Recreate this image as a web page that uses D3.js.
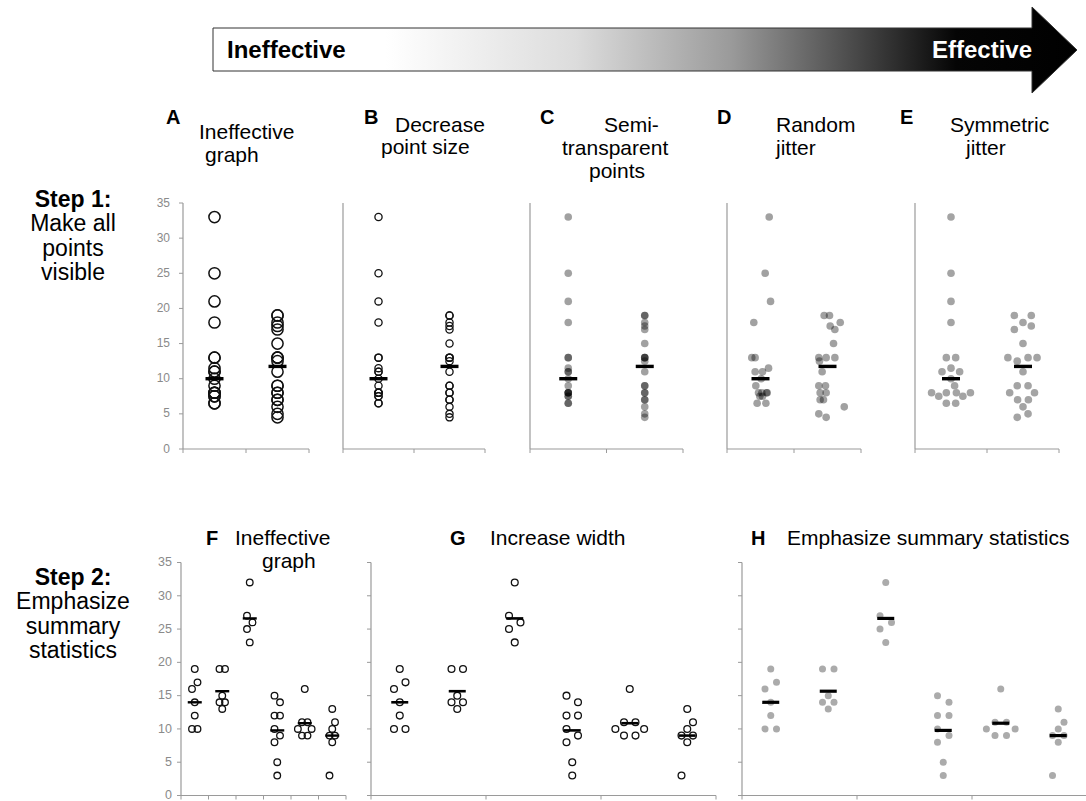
<!DOCTYPE html>
<html>
<head>
<meta charset="utf-8">
<script src="https://cdn.jsdelivr.net/npm/d3@7"></script>
<style>
  html, body { margin: 0; padding: 0; background: #fff; }
  svg { display: block; font-family: "Liberation Sans", Arial, sans-serif; }
</style>
</head>
<body>
<svg id="chart" width="1086" height="801"></svg>
<script>
// ---- data ----
const topGroups = ["Group 1", "Group 2"];
const topGroup1 = [33, 25, 21, 18, 13, 13, 11.5, 11, 11, 10, 9, 8, 8, 8, 8, 7.5, 7.5, 6.5, 6.5];
const topGroup2 = [19, 19, 18, 17.5, 17, 15, 13, 13, 13, 12.5, 11, 9, 9, 8, 8, 7, 7, 6, 5, 4.5];
// horizontal offsets (fraction of a category width) for the jittered panels
const randomJitter1 = [0.13, 0.07, 0.15, -0.10, -0.13, -0.08, 0.12, -0.08, 0.03, 0.01, -0.07, -0.03, 0.02, 0.09, 0.10, -0.01, 0.03, -0.05, 0.08];
const randomJitter2 = [-0.05, 0.03, 0.19, 0.04, 0.11, 0.09, -0.13, -0.02, 0.11, -0.12, -0.08, -0.13, -0.03, -0.11, -0.02, -0.11, -0.06, 0.25, -0.13, -0.02];
const symJitter1 = [0, 0, 0, 0, -0.065, 0.065, 0, -0.125, 0.12, 0, 0.05, -0.27, -0.065, 0.075, 0.27, -0.17, 0.165, -0.065, 0.065];
const symJitter2 = [-0.12, 0.115, 0, 0.115, -0.12, 0, -0.21, 0.07, 0.195, -0.08, 0, -0.08, 0.07, -0.185, 0.16, -0.075, 0.075, 0, 0.07, -0.08];

const bottomGroups = ["1", "2", "3", "4", "5", "6"];
const bottomValues = [
  [19, 17, 16, 14, 12, 10, 10],
  [19, 19, 15, 14, 14, 13],
  [32, 27, 26, 25, 23],
  [15, 14, 12, 12, 10, 9, 8, 5, 3],
  [16, 11, 11, 10, 10, 9, 9],
  [13, 11, 10, 9, 9, 8, 3]
];
const bottomJitter = [
  [0, 0.1, -0.1, 0, 0, -0.1, 0.1],
  [-0.1, 0.1, 0, -0.1, 0.1, 0],
  [0, -0.1, 0.1, -0.1, 0],
  [-0.1, 0.1, -0.1, 0.1, -0.1, 0.1, -0.1, 0, 0],
  [0, -0.1, 0.1, -0.25, 0.25, -0.1, 0.1],
  [0, 0.1, 0, -0.1, 0.1, 0, -0.1]
];
const yTicks = [0, 5, 10, 15, 20, 25, 30, 35];

// ---- drawing ----
const svg = d3.select("#chart");
const axisColor = "#9a9a9a";

// gradient arrow
const defs = svg.append("defs");
const grad = defs.append("linearGradient")
  .attr("id", "effGrad").attr("gradientUnits", "userSpaceOnUse")
  .attr("x1", 213).attr("x2", 1077).attr("y1", 0).attr("y2", 0);
[[0, "#ffffff"], [0.2, "#ffffff"], [0.42, "#dcdcdc"], [0.6, "#9a9a9a"], [0.75, "#454545"], [0.86, "#050505"], [1, "#000000"]]
  .forEach(([o, c]) => grad.append("stop").attr("offset", o).attr("stop-color", c));
svg.append("path")
  .attr("d", "M213,28 L1032,28 L1032,7 L1077,50 L1032,93 L1032,71 L213,71 Z")
  .attr("fill", "url(#effGrad)").attr("stroke", "#333").attr("stroke-width", 1);
svg.append("text").attr("x", 227).attr("y", 58).attr("font-size", 24).attr("font-weight", "bold")
  .attr("fill", "#000").text("Ineffective");
svg.append("text").attr("x", 1032).attr("y", 58).attr("font-size", 24).attr("font-weight", "bold")
  .attr("text-anchor", "end").attr("fill", "#fff").text("Effective");

// row labels
function rowLabel(lines, y0) {
  lines.forEach((t, i) => {
    svg.append("text").attr("x", 73).attr("y", y0 + i * 24.3)
      .attr("text-anchor", "middle").attr("font-size", 23)
      .attr("font-weight", i === 0 ? "bold" : "normal").text(t);
  });
}
rowLabel(["Step 1:", "Make all", "points", "visible"], 207);
rowLabel(["Step 2:", "Emphasize", "summary", "statistics"], 585);

// panel headings
function heading(letter, lx, ly, lines) {
  svg.append("text").attr("x", lx).attr("y", ly).attr("font-size", 20)
    .attr("font-weight", "bold").text(letter);
  lines.forEach(([t, x, y]) => {
    svg.append("text").attr("x", x).attr("y", y).attr("font-size", 21).text(t);
  });
}
heading("A", 166, 124, [["Ineffective", 199, 139], ["graph", 205, 162]]);
heading("B", 364, 124, [["Decrease", 395, 132], ["point size", 381, 154]]);
heading("C", 540, 124, [["Semi-", 604, 132], ["transparent", 562, 155], ["points", 589, 178]]);
heading("D", 717, 124, [["Random", 776, 132], ["jitter", 776, 155]]);
heading("E", 900, 124, [["Symmetric", 950, 132], ["jitter", 966, 155]]);
heading("F", 206, 545, [["Ineffective", 235, 545], ["graph", 262, 568]]);
heading("G", 450, 545, [["Increase width", 490, 545]]);
heading("H", 751, 545, [["Emphasize summary statistics", 787, 545]]);

// scales
const yTop = d3.scaleLinear().domain([0, 35]).range([449, 203]);
const yBot = d3.scaleLinear().domain([0, 35]).range([795.5, 562.5]);

function drawAxes(g, x, y, opts) {
  const [x0, x1] = x.range();
  const [yb, yt] = y.range();
  // vertical axis
  g.append("line").attr("x1", x0).attr("x2", x0).attr("y1", yt).attr("y2", yb)
    .attr("stroke", axisColor).attr("stroke-width", 1.2);
  if (opts.yTicks) {
    g.selectAll(".ytick").data(yTicks).join("line")
      .attr("x1", x0 - 4).attr("x2", x0).attr("y1", d => y(d)).attr("y2", d => y(d))
      .attr("stroke", axisColor).attr("stroke-width", 1);
  }
  if (opts.yLabels) {
    g.selectAll(".ylab").data(yTicks).join("text")
      .attr("x", x0 - opts.labelGap).attr("y", d => y(d)).attr("dy", "0.3em")
      .attr("text-anchor", "end").attr("font-size", opts.labelSize).attr("fill", "#8a8a8a")
      .text(d => d);
  }
  // horizontal axis
  g.append("line").attr("x1", x0).attr("x2", x1).attr("y1", yb).attr("y2", yb)
    .attr("stroke", axisColor).attr("stroke-width", 1.2);
  const dom = x.domain();
  const edges = [];
  for (let i = 0; i <= dom.length; i += opts.tickEvery) {
    edges.push(i < dom.length ? x(dom[i]) : x1);
  }
  g.selectAll(".xtick").data(edges).join("line")
    .attr("x1", d => d).attr("x2", d => d).attr("y1", yb).attr("y2", yb + 4)
    .attr("stroke", axisColor).attr("stroke-width", 1);
}

function summaryBar(g, cx, yv, w, sw) {
  g.append("line").attr("x1", cx - w / 2).attr("x2", cx + w / 2)
    .attr("y1", yv).attr("y2", yv).attr("stroke", "#000").attr("stroke-width", sw);
}

// top row panels
const topPanels = [
  { x0: 183, x1: 309, style: "open", r: 5.6, sw: 1.5, labels: true },
  { x0: 343, x1: 485, style: "open", r: 3.6, sw: 1.3 },
  { x0: 530, x1: 683, style: "alpha", r: 3.8 },
  { x0: 727, x1: 861, style: "alpha", r: 3.8, jitter: [randomJitter1, randomJitter2] },
  { x0: 915, x1: 1059, style: "grey", r: 3.8, jitter: [symJitter1, symJitter2] }
];
const topSeries = [topGroup1, topGroup2];

topPanels.forEach(p => {
  const g = svg.append("g");
  const x = d3.scaleBand().domain(topGroups).range([p.x0, p.x1]);
  drawAxes(g, x, yTop, { yTicks: !!p.labels, yLabels: !!p.labels, tickEvery: 1, labelGap: 13, labelSize: 12 });
  topGroups.forEach((grp, gi) => {
    const vals = topSeries[gi];
    const cx = x(grp) + x.bandwidth() / 2;
    const pts = vals.map((v, i) => ({ v, j: p.jitter ? p.jitter[gi][i] : 0 }));
    const sel = g.selectAll(null).data(pts).join("circle")
      .attr("cx", d => cx + d.j * x.bandwidth())
      .attr("cy", d => yTop(d.v))
      .attr("r", p.r);
    if (p.style === "open") {
      sel.attr("fill", "none").attr("stroke", "#111").attr("stroke-width", p.sw);
    } else if (p.style === "alpha") {
      sel.attr("fill", "#000").attr("fill-opacity", 0.37);
    } else {
      sel.attr("fill", "#a4a4a4");
    }
    summaryBar(g, cx, yTop(d3.median(vals)), 18, 3.4);
  });
});

// bottom row panels
const botPanels = [
  { x0: 181, x1: 346, style: "open", r: 3.3, sw: 1.3, labels: true, tickEvery: 1, barW: 14, barSW: 2.4 },
  { x0: 371, x1: 716, style: "open", r: 3.4, sw: 1.3, tickEvery: 2, barW: 17, barSW: 2.6 },
  { x0: 742, x1: 1087, style: "grey", r: 3.5, tickEvery: 2, barW: 17, barSW: 3.2 }
];
botPanels.forEach(p => {
  const g = svg.append("g");
  const x = d3.scaleBand().domain(bottomGroups).range([p.x0, p.x1]);
  drawAxes(g, x, yBot, { yTicks: true, yLabels: !!p.labels, tickEvery: p.tickEvery, labelGap: 9, labelSize: 12.5 });
  bottomGroups.forEach((grp, gi) => {
    const vals = bottomValues[gi];
    const cx = x(grp) + x.bandwidth() / 2;
    const pts = vals.map((v, i) => ({ v, j: bottomJitter[gi][i] }));
    const sel = g.selectAll(null).data(pts).join("circle")
      .attr("cx", d => cx + d.j * x.bandwidth())
      .attr("cy", d => yBot(d.v))
      .attr("r", p.r);
    if (p.style === "open") {
      sel.attr("fill", "none").attr("stroke", "#111").attr("stroke-width", p.sw);
    } else {
      sel.attr("fill", "#ababab");
    }
    summaryBar(g, cx, yBot(d3.mean(vals)), p.barW, p.barSW);
  });
});
</script>
</body>
</html>
